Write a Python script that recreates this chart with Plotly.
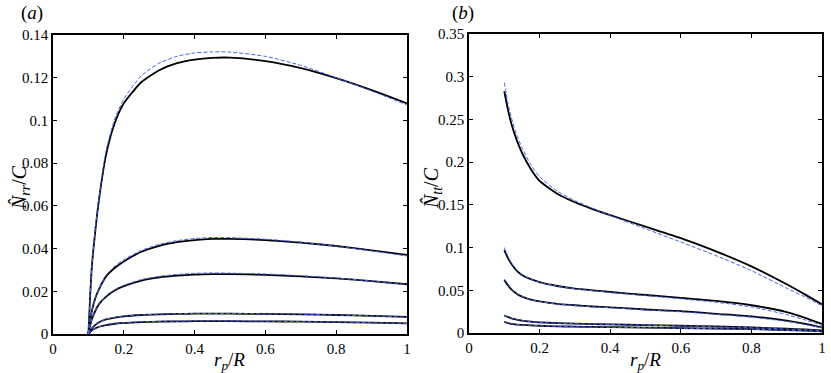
import plotly.graph_objects as go

# panel (a): N_rr / C against r_p / R
xa = [0.1, 0.105, 0.11, 0.12, 0.13, 0.15, 0.175, 0.2, 0.25, 0.3, 0.35, 0.4, 0.45, 0.5, 0.6, 0.7, 0.8, 0.9, 1.0]
a_black = [
    [0, 0.018, 0.032, 0.049, 0.063, 0.084, 0.099, 0.108, 0.118, 0.1235, 0.1268, 0.1285, 0.1293, 0.1294, 0.1278, 0.1245, 0.1198, 0.1142, 0.1080],
    [0, 0.006, 0.011, 0.017, 0.021, 0.027, 0.031, 0.034, 0.0385, 0.0413, 0.0430, 0.0440, 0.0445, 0.0445, 0.0440, 0.0428, 0.0412, 0.0392, 0.0370],
    [0, 0.004, 0.007, 0.011, 0.014, 0.0175, 0.0205, 0.0224, 0.0250, 0.0265, 0.0273, 0.0278, 0.0280, 0.0280, 0.0277, 0.0270, 0.0260, 0.0248, 0.0233],
    [0, 0.0015, 0.0027, 0.0043, 0.0055, 0.0068, 0.0077, 0.0083, 0.0089, 0.0092, 0.0094, 0.0095, 0.0095, 0.0095, 0.0094, 0.0092, 0.0089, 0.0085, 0.0080],
    [0, 0.0009, 0.0017, 0.0027, 0.0034, 0.0042, 0.0048, 0.0052, 0.0056, 0.0058, 0.0059, 0.0060, 0.0060, 0.0060, 0.0059, 0.0058, 0.0056, 0.0053, 0.0050],
]
a_blue = [
    [0, 0.018, 0.032, 0.050, 0.064, 0.086, 0.101, 0.110, 0.121, 0.1268, 0.1300, 0.1316, 0.1321, 0.1320, 0.1300, 0.1258, 0.1200, 0.1138, 0.1072],
    [0, 0.006, 0.011, 0.017, 0.021, 0.0275, 0.0318, 0.0348, 0.0392, 0.0420, 0.0437, 0.0447, 0.0452, 0.0451, 0.0444, 0.0430, 0.0411, 0.0389, 0.0365],
    [0, 0.004, 0.007, 0.011, 0.014, 0.0178, 0.0208, 0.0228, 0.0255, 0.0270, 0.0279, 0.0284, 0.0286, 0.0285, 0.0281, 0.0273, 0.0262, 0.0248, 0.0232],
    [0, 0.0015, 0.0027, 0.0043, 0.0055, 0.0069, 0.0078, 0.0084, 0.0090, 0.0093, 0.0095, 0.0096, 0.0096, 0.0096, 0.0095, 0.0093, 0.0089, 0.0085, 0.0079],
    [0, 0.0009, 0.0017, 0.0027, 0.0034, 0.0043, 0.0049, 0.0053, 0.0057, 0.0059, 0.0060, 0.0061, 0.0061, 0.0061, 0.0060, 0.0058, 0.0056, 0.0053, 0.0049],
]

# panel (b): N_tt / C against r_p / R
xb = [0.1, 0.11, 0.12, 0.135, 0.15, 0.175, 0.2, 0.25, 0.3, 0.35, 0.4, 0.5, 0.6, 0.7, 0.8, 0.9, 0.95, 1.0]
b_black = [
    [0.283, 0.262, 0.245, 0.226, 0.211, 0.192, 0.178, 0.163, 0.153, 0.145, 0.138, 0.1245, 0.111, 0.0955, 0.078, 0.057, 0.0455, 0.0335],
    [0.097, 0.088, 0.081, 0.073, 0.068, 0.063, 0.0595, 0.055, 0.052, 0.050, 0.048, 0.0445, 0.041, 0.0375, 0.0325, 0.0245, 0.018, 0.0105],
    [0.062, 0.056, 0.051, 0.046, 0.0425, 0.039, 0.037, 0.034, 0.0325, 0.031, 0.030, 0.0275, 0.0255, 0.0225, 0.0195, 0.0145, 0.011, 0.0065],
    [0.0205, 0.0188, 0.0172, 0.0157, 0.0145, 0.0133, 0.0125, 0.0116, 0.0110, 0.0105, 0.0100, 0.0093, 0.0085, 0.0076, 0.0065, 0.0050, 0.0041, 0.0030],
    [0.0130, 0.0117, 0.0107, 0.0099, 0.0095, 0.0089, 0.0085, 0.0078, 0.0074, 0.0071, 0.0068, 0.0063, 0.0057, 0.0052, 0.0045, 0.0035, 0.0028, 0.0020],
]
b_blue = [
    [0.293, 0.270, 0.252, 0.232, 0.217, 0.197, 0.183, 0.166, 0.155, 0.146, 0.1375, 0.122, 0.1065, 0.0905, 0.073, 0.0525, 0.0425, 0.032],
    [0.100, 0.090, 0.082, 0.074, 0.0685, 0.0632, 0.0595, 0.0548, 0.0517, 0.0495, 0.0475, 0.0438, 0.0400, 0.0360, 0.0305, 0.0215, 0.0155, 0.0090],
    [0.063, 0.057, 0.0515, 0.0463, 0.0427, 0.0391, 0.0370, 0.0339, 0.0322, 0.0307, 0.0296, 0.0270, 0.0248, 0.0218, 0.0185, 0.0135, 0.0100, 0.0060],
    [0.0210, 0.0190, 0.0173, 0.0158, 0.0146, 0.0133, 0.0125, 0.0115, 0.0109, 0.0104, 0.0099, 0.0091, 0.0083, 0.0073, 0.0062, 0.0047, 0.0038, 0.0028],
    [0.0133, 0.0119, 0.0108, 0.0100, 0.0095, 0.0089, 0.0085, 0.0078, 0.0073, 0.0070, 0.0067, 0.0062, 0.0056, 0.0050, 0.0043, 0.0033, 0.0026, 0.0018],
]

x_ticks = [0, 0.2, 0.4, 0.6, 0.8, 1]
x_labels = ["0", "0.2", "0.4", "0.6", "0.8", "1"]
ya_ticks = [0, 0.02, 0.04, 0.06, 0.08, 0.1, 0.12, 0.14]
ya_labels = ["0", "0.02", "0.04", "0.06", "0.08", "0.1", "0.12", "0.14"]
yb_ticks = [0, 0.05, 0.1, 0.15, 0.2, 0.25, 0.3, 0.35]
yb_labels = ["0", "0.05", "0.1", "0.15", "0.2", "0.25", "0.3", "0.35"]

BLUE = "#4563ee"
FONT = "Liberation Serif"
W, H = 831, 373

fig = go.Figure()

for xs, blacks, blues, xa_name, ya_name in [(xa, a_black, a_blue, "x", "y"),
                                             (xb, b_black, b_blue, "x2", "y2")]:
    for yb in blacks:
        fig.add_trace(go.Scatter(x=xs, y=yb, mode="lines", xaxis=xa_name, yaxis=ya_name,
                                 line=dict(color="black", width=1.8, shape="spline", smoothing=0.6),
                                 showlegend=False, hoverinfo="skip"))
    for yb in blues:
        fig.add_trace(go.Scatter(x=xs, y=yb, mode="lines", xaxis=xa_name, yaxis=ya_name,
                                 line=dict(color=BLUE, width=1, dash="4px,2px", shape="spline", smoothing=0.6),
                                 showlegend=False, hoverinfo="skip"))

axis_style = dict(showline=True, linecolor="black", linewidth=1.5, mirror="allticks",
                  ticks="inside", ticklen=4, tickwidth=1, tickcolor="black",
                  showgrid=False, zeroline=False, automargin=False,
                  tickfont=dict(family=FONT, size=15, color="black"))

fig.update_layout(
    width=W, height=H,
    margin=dict(l=0, r=0, t=0, b=0),
    paper_bgcolor="white", plot_bgcolor="white",
    font=dict(family=FONT, color="black"),
    xaxis=dict(domain=[53 / W, 407 / W], range=[0, 1], tickvals=x_ticks, ticktext=x_labels,
               anchor="y", **axis_style),
    yaxis=dict(domain=[1 - 334 / H, 1 - 35 / H], range=[0, 0.14], tickvals=ya_ticks,
               ticktext=ya_labels, anchor="x", **axis_style),
    xaxis2=dict(domain=[469 / W, 822 / W], range=[0, 1], tickvals=x_ticks, ticktext=x_labels,
                anchor="y2", **axis_style),
    yaxis2=dict(domain=[1 - 333 / H, 1 - 34 / H], range=[0, 0.35], tickvals=yb_ticks,
                ticktext=yb_labels, anchor="x2", **axis_style),
)

xt = "<i>r</i><sub><i>p</i></sub>/<i>R</i>"
labels = [
    ("(<i>a</i>)", 19, 13, 0, 19),
    ("(<i>b</i>)", 450, 13, 0, 19),
    (xt, 230, 361, 0, 19),
    (xt, 645, 361, 0, 19),
    ("<i>N̂</i><sub><i>rr</i></sub>/<i>C</i>", 20, 188, -90, 20),
    ("<i>N̂</i><sub><i>tt</i></sub>/<i>C</i>", 432, 188, -90, 20),
]
for text, px, py, ang, size in labels:
    fig.add_annotation(text=text, x=px / W, y=1 - py / H, xref="paper", yref="paper",
                       xanchor="left" if text.startswith("(") else "center", yanchor="middle",
                       textangle=ang, showarrow=False, font=dict(family=FONT, size=size))

# drop the page's default body margin so the figure sits at the window's corner
fig.write_html("out.html", config={"displayModeBar": False},
               post_script="document.body.style.margin='0';document.body.style.overflow='hidden';")
